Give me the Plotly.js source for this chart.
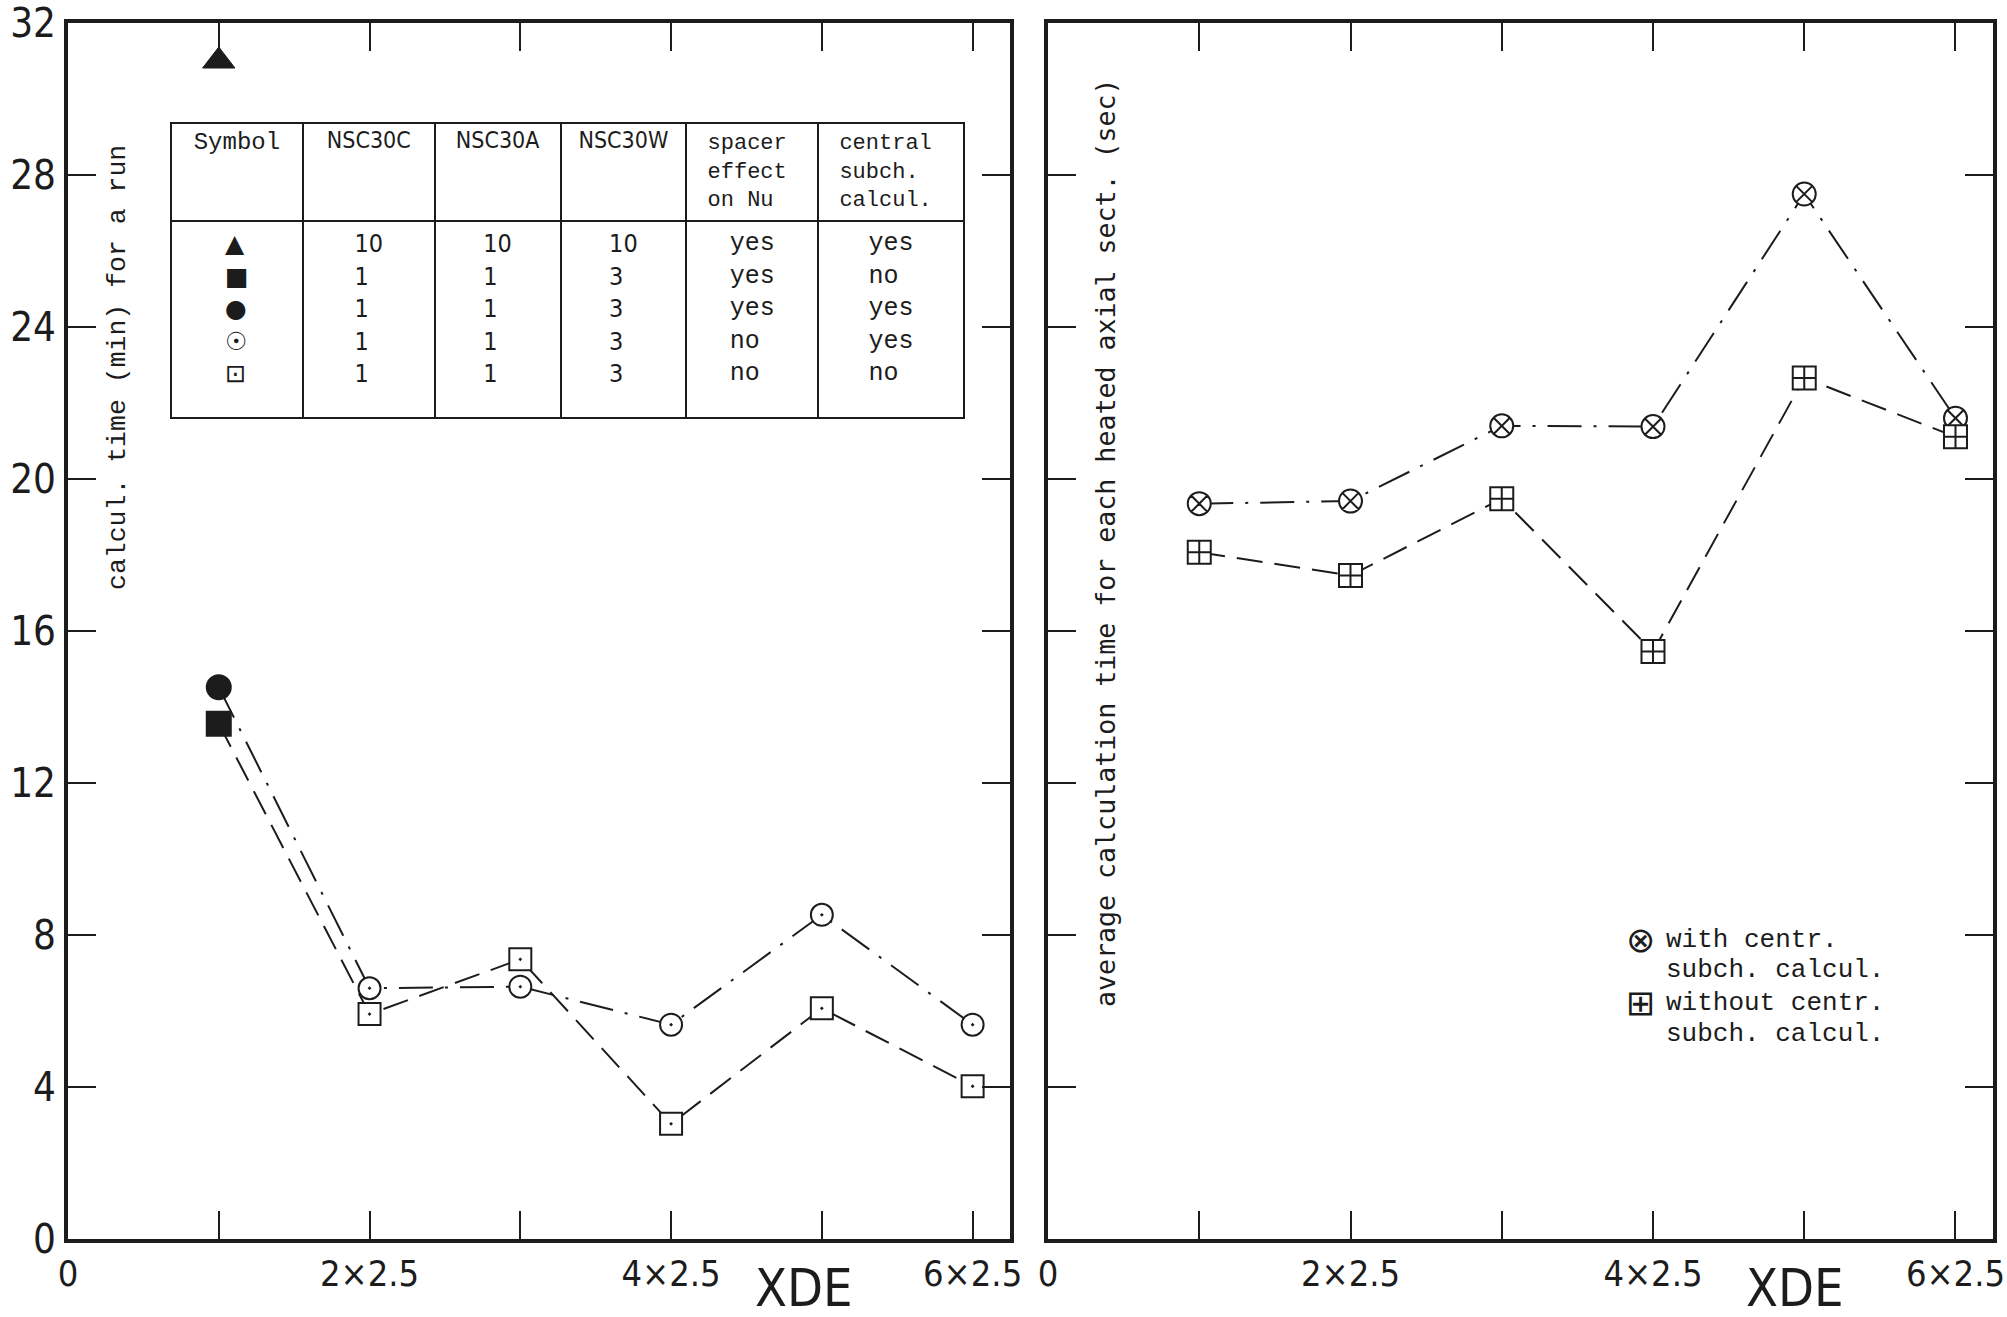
<!DOCTYPE html>
<html>
<head>
<meta charset="utf-8">
<script src="https://cdn.plot.ly/plotly-3.0.1.min.js"></script>
<style>html,body{margin:0;padding:0;background:#fff;}</style>
</head>
<body>
<div id="chart" style="width:2007px;height:1317px;"></div>
<script>
// ---------- data ----------
const xde = [2.5, 5, 7.5, 10, 12.5, 15];
const xTickVals = [0, 2.5, 5, 7.5, 10, 12.5, 15];
const xTickText = ['0', '', '2×2.5', '', '4×2.5', '', '6×2.5'];
const yTickVals = [0, 4, 8, 12, 16, 20, 24, 28, 32];

// left panel: calcul. time (min) for a run
const triangleX = [2.5];
const triangleY = [31.0];
const leftCircleY = [14.52, 6.60, 6.64, 5.64, 8.53, 5.64];
const leftSquareY = [13.56, 5.92, 7.36, 3.03, 6.07, 4.02];

// right panel: average calculation time for each heated axial sect. (sec)
const withCentrY = [19.35, 19.42, 21.40, 21.38, 27.50, 21.60];
const withoutCentrY = [18.07, 17.46, 19.48, 15.46, 22.66, 21.11];

// inset table
const tableHeader = ['Symbol', 'NSC30C', 'NSC30A', 'NSC30W',
  ['spacer', 'effect', 'on Nu'], ['central', 'subch.', 'calcul.']];
const tableSymbols = ['▲', '■', '●', '☉', '⊡'];
const colNSC30C = [10, 1, 1, 1, 1];
const colNSC30A = [10, 1, 1, 1, 1];
const colNSC30W = [10, 3, 3, 3, 3];
const colSpacer = ['yes', 'yes', 'yes', 'no', 'no'];
const colCentral = ['yes', 'no', 'yes', 'yes', 'no'];

// legend (right panel)
const legendSymbols = ['⊗', '⊞'];
const legendLines = ['with centr.', 'subch. calcul.', 'without centr.', 'subch. calcul.'];

// ---------- style ----------
const W = 2007, H = 1317;
const INK = '#1c1c1c';
const NARROW = "'DejaVu Sans Condensed', 'Liberation Sans Narrow', sans-serif";
const MONO = "'Liberation Mono', 'Courier New', monospace";
const SMONO = "'DejaVu Sans Mono', 'Liberation Mono', monospace";
const SYM = "'DejaVu Sans', sans-serif";
const NBSP = '\u00a0';

const px = v => v / W;
const py = v => 1 - v / H;

const firstFilled = (filled, open) => xde.map((_, i) => i === 0 ? filled : open);
const headerCell = v => Array.isArray(v) ? v.map(s => NBSP + s).join('<br>') : v;

const traces = [
  // left: dash-dot circle series (first point filled)
  {
    x: xde, y: leftCircleY, xaxis: 'x', yaxis: 'y', mode: 'lines+markers', showlegend: false,
    line: {color: INK, width: 2, dash: '34px,12px,3px,12px'},
    marker: {symbol: firstFilled('circle', 'circle-dot'), size: firstFilled(24, 22), opacity: 1,
             color: firstFilled(INK, 'white'), line: {color: INK, width: 2}}
  },
  // left: dashed square series (first point filled)
  {
    x: xde, y: leftSquareY, xaxis: 'x', yaxis: 'y', mode: 'lines+markers', showlegend: false,
    line: {color: INK, width: 2, dash: '26px,12px'},
    marker: {symbol: firstFilled('square', 'square-dot'), size: firstFilled(24, 22), opacity: 1,
             color: firstFilled(INK, 'white'), line: {color: INK, width: 2}}
  },
  // left: filled triangle
  {
    x: triangleX, y: triangleY, xaxis: 'x', yaxis: 'y', mode: 'markers', showlegend: false,
    marker: {symbol: 'triangle-up', size: 28, color: INK, opacity: 1, line: {color: INK, width: 1}}
  },
  // right: with centr. subch. calcul.
  {
    x: xde, y: withCentrY, xaxis: 'x2', yaxis: 'y2', mode: 'lines+markers', showlegend: false,
    line: {color: INK, width: 2, dash: '34px,12px,3px,12px'},
    marker: {symbol: 'circle-x', size: 23, color: 'white', opacity: 1, line: {color: INK, width: 2}}
  },
  // right: without centr. subch. calcul.
  {
    x: xde, y: withoutCentrY, xaxis: 'x2', yaxis: 'y2', mode: 'lines+markers', showlegend: false,
    line: {color: INK, width: 2, dash: '26px,12px'},
    marker: {symbol: 'square-cross', size: 23, color: 'white', opacity: 1, line: {color: INK, width: 2}}
  },
  // inset table
  {
    type: 'table',
    domain: {x: [px(171), px(965)], y: [py(424), py(123)]},
    columnwidth: [132, 132, 126, 126, 132, 146],
    header: {
      values: tableHeader.map(v => [headerCell(v)]),
      align: ['center', 'center', 'center', 'center', 'left', 'left'],
      height: 97,
      line: {color: INK, width: 2},
      fill: {color: 'white'},
      font: {family: [MONO, NARROW, NARROW, NARROW, MONO, MONO], size: [24, 23, 23, 23, 22, 22], color: INK}
    },
    cells: {
      values: [[tableSymbols.join('<br>')], [colNSC30C.join('<br>')], [colNSC30A.join('<br>')],
               [colNSC30W.join('<br>')], [colSpacer.join('<br>')], [colCentral.join('<br>')]],
      align: 'center',
      height: 197,
      line: {color: INK, width: 2},
      fill: {color: 'white'},
      font: {family: [SYM, NARROW, NARROW, NARROW, MONO, MONO], size: 25, color: INK}
    }
  }
];

const axisCommon = {
  showgrid: false, zeroline: false, showline: true, linewidth: 4, linecolor: INK, mirror: 'ticks',
  ticks: 'inside', ticklen: 28, tickwidth: 2, tickcolor: INK, ticklabeloverflow: 'allow'
};
const xAxis = (domain) => Object.assign({}, axisCommon, {
  domain: domain, range: [0, 15.62], tickmode: 'array', tickvals: xTickVals, ticktext: xTickText,
  ticklabelstandoff: 0, tickfont: {family: NARROW, size: 36, color: INK}
});
const yAxis = (anchor, labels) => Object.assign({}, axisCommon, {
  domain: [py(1239), py(23)], range: [0, 32], tickmode: 'array', tickvals: yTickVals,
  showticklabels: labels, anchor: anchor, ticklabelstandoff: 0,
  tickfont: {family: NARROW, size: 40, color: INK}
});

const annotations = [
  {text: 'XDE', xref: 'x', yref: 'paper', x: 12.2, y: py(1288), xanchor: 'center', yanchor: 'middle',
   showarrow: false, font: {family: NARROW, size: 52, color: INK}},
  {text: 'XDE', xref: 'x2', yref: 'paper', x: 12.35, y: py(1288), xanchor: 'center', yanchor: 'middle',
   showarrow: false, font: {family: NARROW, size: 52, color: INK}},
  {text: 'calcul. time (min) for a run', xref: 'paper', yref: 'paper', x: px(118), y: py(368),
   xanchor: 'center', yanchor: 'middle', textangle: -90, showarrow: false,
   font: {family: MONO, size: 26.5, color: INK}},
  {text: 'average calculation time for each heated axial sect. (sec)', xref: 'paper', yref: 'paper',
   x: px(1106), y: py(543), xanchor: 'center', yanchor: 'middle', textangle: -90, showarrow: false,
   font: {family: SMONO, size: 26.6, color: INK}}
];
const legendSymY = [940, 1003];
legendSymbols.forEach((s, i) => annotations.push({
  text: s, xref: 'paper', yref: 'paper', x: px(1640), y: py(legendSymY[i]), xanchor: 'center', yanchor: 'middle',
  showarrow: false, font: {family: SYM, size: 35, color: INK}
}));
const legendLineY = [940, 970, 1003, 1034];
legendLines.forEach((t, i) => annotations.push({
  text: t, xref: 'paper', yref: 'paper', x: px(1664), y: py(legendLineY[i]), xanchor: 'left', yanchor: 'middle',
  showarrow: false, font: {family: MONO, size: 26, color: INK}
}));

const layout = {
  width: W, height: H, margin: {l: 0, r: 0, t: 0, b: 0},
  paper_bgcolor: 'white', plot_bgcolor: 'white', showlegend: false,
  xaxis: Object.assign(xAxis([px(68), px(1010)]), {anchor: 'y'}),
  yaxis: yAxis('x', true),
  xaxis2: Object.assign(xAxis([px(1048), px(1993)]), {anchor: 'y2'}),
  yaxis2: yAxis('x2', false),
  annotations: annotations
};

Plotly.newPlot('chart', traces, layout, {displayModeBar: false, staticPlot: true});
</script>
</body>
</html>
